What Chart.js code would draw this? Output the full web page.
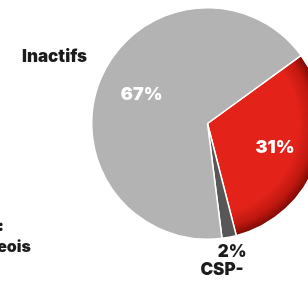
<!DOCTYPE html>
<html><head><meta charset="utf-8">
<script src="https://cdn.jsdelivr.net/npm/chart.js@4/dist/chart.umd.min.js"></script>
<style>
html,body{margin:0;padding:0;background:#fff;overflow:hidden;width:308px;height:281px;}
#wrap{position:absolute;left:0;top:0;width:340px;height:281px;}
</style></head>
<body>
<div id="wrap"><canvas id="c" width="340" height="281"></canvas></div>
<script>
const categories = ["CSP+", "CSP-", "Inactifs"];
const values = [31, 2, 67];
const colors = ["#e3231a", "#575757", "#b3b3b3"];
const percentLabels = ["31%", "2%", "67%"];
const sideNote = ["Indépendants :", "petits-bourgeois"];

const TEXT = "#1c1c1c";
const FONT = "Inter, 'Liberation Sans', sans-serif";

function redGradient(ctx) {
  const chart = ctx.chart;
  const a = chart.chartArea;
  if (!a) return colors[0];
  const cx = (a.left + a.right) / 2, cy = (a.top + a.bottom) / 2;
  const R = Math.min(a.right - a.left, a.bottom - a.top) / 2;
  const g = chart.ctx.createRadialGradient(cx, cy, 0, cx, cy, R);
  g.addColorStop(0, "#e3231a");
  g.addColorStop(0.78, "#e3231a");
  g.addColorStop(0.9, "#c0180f");
  g.addColorStop(1, "#780905");
  return g;
}

const labelPlugin = {
  id: "labels",
  afterDatasetsDraw(chart) {
    const ctx = chart.ctx;
    const arcs = chart.getDatasetMeta(0).data;
    ctx.save();
    ctx.textAlign = "center";
    ctx.textBaseline = "middle";
    arcs.forEach((a, i) => {
      const mid = (a.startAngle + a.endAngle) / 2;
      const R = a.outerRadius;
      const cx = a.x, cy = a.y;
      const at = r => [cx + Math.cos(mid) * r, cy + Math.sin(mid) * r];
      if (values[i] >= 10) {
        const [px, py] = at(R * 0.62);
        ctx.fillStyle = "#ffffff";
        ctx.font = "900 18px " + FONT;
        ctx.fillText(percentLabels[i], px, py);
        const [lx, ly] = at(R * 1.44);
        ctx.fillStyle = TEXT;
        ctx.font = "900 17px " + FONT;
        ctx.fillText(categories[i], lx, ly);
      } else {
        const [px, py] = at(R * 1.13);
        ctx.fillStyle = TEXT;
        ctx.font = "900 17px " + FONT;
        ctx.fillText(percentLabels[i], px, py);
        ctx.fillText(categories[i], px - 10, py + 18);
      }
    });
    ctx.fillStyle = TEXT;
    ctx.font = "900 16px " + FONT;
    ctx.textAlign = "right";
    ctx.fillText(sideNote[0], 4, 226);
    ctx.fillText(sideNote[1], 31, 247);
    ctx.restore();
  }
};

new Chart(document.getElementById("c"), {
  type: "pie",
  data: {
    labels: categories,
    datasets: [{
      data: values,
      backgroundColor: ctx => ctx.dataIndex === 0 ? redGradient(ctx) : colors[ctx.dataIndex],
      borderColor: "#ffffff",
      borderWidth: 1.5,
      hoverOffset: 0
    }]
  },
  options: {
    responsive: false,
    animation: false,
    rotation: 54,
    layout: { padding: { left: 91, top: 7, bottom: 41, right: 16 } },
    plugins: { legend: { display: false }, tooltip: { enabled: false } }
  },
  plugins: [labelPlugin]
});
</script>
</body></html>
